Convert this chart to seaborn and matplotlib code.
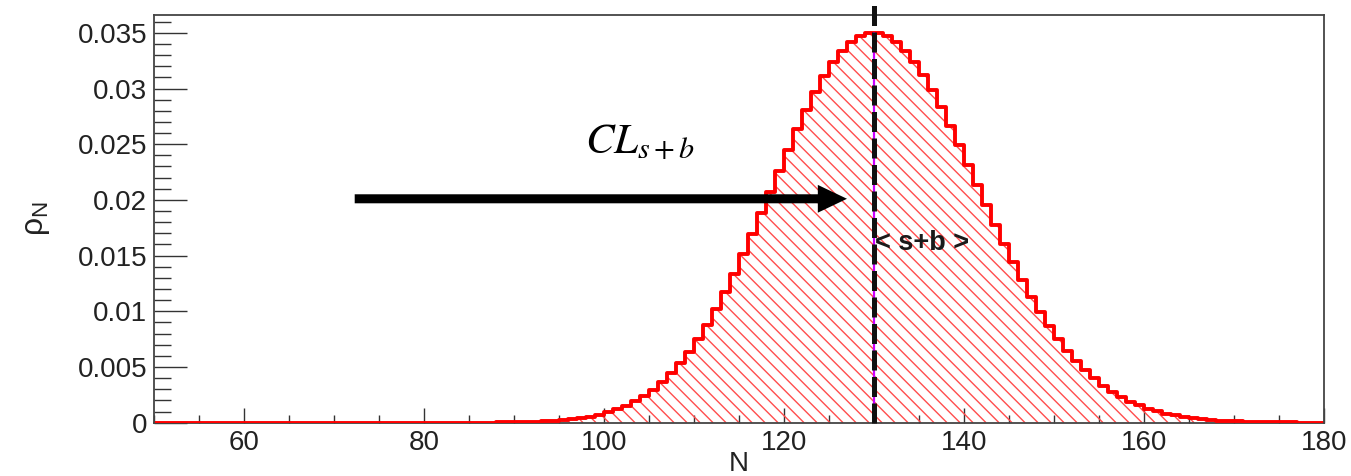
import numpy as np
import pandas as pd
import matplotlib
matplotlib.use("Agg")
import matplotlib.pyplot as plt
from matplotlib.ticker import MultipleLocator, FuncFormatter
from matplotlib.collections import LineCollection
from matplotlib.transforms import IdentityTransform
import seaborn as sns

# Counts N (left bin edges, unit-width bins from 50 to 180)
n_values = list(range(50, 180))
last_edge = 180

# Probability of observing N events
prob = [
    # 50 - 84
    0.0, 0.0, 0.0, 0.0, 0.0, 0.0, 0.0, 0.0, 0.0, 0.0,
    0.0, 0.0, 0.0, 0.0, 0.0, 0.0, 0.0, 0.0, 0.0, 0.0,
    0.0, 0.0, 0.0, 0.0, 0.0, 0.0, 0.0, 0.0, 0.0, 0.0,
    0.0, 0.0, 0.0, 0.0, 0.0,
    # 85 - 94
    0.000006, 0.000009, 0.000014, 0.000020, 0.000029,
    0.000042, 0.000060, 0.000085, 0.000119, 0.000164,
    # 95 - 104
    0.000225, 0.000305, 0.000408, 0.000542, 0.000711,
    0.000925, 0.001190, 0.001517, 0.001915, 0.002394,
    # 105 - 114
    0.002964, 0.003635, 0.004416, 0.005316, 0.006340,
    0.007492, 0.008775, 0.010185, 0.011717, 0.013361,
    # 115 - 124
    0.015104, 0.016927, 0.018808, 0.020721, 0.022636,
    0.024522, 0.026346, 0.028074, 0.029672, 0.031108,
    # 125 - 134
    0.032352, 0.033379, 0.034167, 0.034701, 0.034970,
    0.034970, 0.034703, 0.034177, 0.033406, 0.032409,
    # 135 - 144
    0.031209, 0.029832, 0.028308, 0.026667, 0.024940,
    0.023159, 0.021352, 0.019548, 0.017771, 0.016043,
    # 145 - 154
    0.014383, 0.012807, 0.011326, 0.009949, 0.008680,
    0.007523, 0.006477, 0.005540, 0.004707, 0.003973,
    # 155 - 164
    0.003332, 0.002777, 0.002299, 0.001892, 0.001547,
    0.001257, 0.001015, 0.000814, 0.000649, 0.000515,
    # 165 - 174
    0.000406, 0.000318, 0.000247, 0.000191, 0.000147,
    0.000113, 0.000086, 0.000065, 0.000049, 0.000036,
    # 175 - 179
    0.000027, 0.000020, 0.000015, 0.000011, 0.000008,
]

mean_sb = 130          # expected signal + background
x_ticks_major = 20
x_ticks_minor = 5
y_ticks_major = 0.005
y_ticks_minor = 0.001
x_range = (50, 180)
y_range = (0, 0.0366)

# Arrow and annotation anchors
arrow_start = (72.3, 0.0201)
arrow_end = (127.0, 0.0201)
cl_pos = (97.9, 0.0242)
mean_label_pos = (130.1, 0.0161)

df = pd.DataFrame({"N": n_values, "p": prob})
edges = n_values + [last_edge]

sns.set_style("white")
plt.rcParams["font.family"] = ["Liberation Sans", "DejaVu Sans"]

fig = plt.figure(figsize=(13.51, 4.76), dpi=100)
ax = fig.add_axes([0.1140, 0.1120, 0.8660, 0.8565])

ax.set_xlim(*x_range)
ax.set_ylim(*y_range)

# Area under the distribution (used as the clip region for the hatching)
sns.histplot(data=df, x="N", weights="p", bins=edges, element="step",
             fill=True, ax=ax, color="red", linewidth=0)
fill_art = ax.collections[-1]
fill_art.set_facecolor("none")
fill_art.set_edgecolor("none")
fill_art.set_linewidth(0)

# Diagonal "\\" hatching, ~13 px apart, clipped to the area under the steps
x0, y0, x1, y1 = ax.bbox.extents
height = y1 - y0
spacing = 13.0
starts = np.arange(x0 - height, x1 + spacing, spacing)
segments = [[(s, y1), (s + height, y0)] for s in starts]
hatch = LineCollection(segments, colors="#ff4d4d", linewidths=1.0,
                       transform=IdentityTransform(), zorder=1.5)
ax.add_collection(hatch, autolim=False)
hatch.set_clip_path(fill_art.get_paths()[0], ax.transData)

# Step outline
sns.histplot(data=df, x="N", weights="p", bins=edges, element="step",
             fill=False, ax=ax, color="#ff0000", linewidth=2.8)

# Mean marker: thin magenta line under a thick dashed black one
peak = max(prob)
ax.plot([mean_sb, mean_sb], [0, peak], color="#cc00ff", lw=1.6, zorder=3)
ax.axvline(mean_sb, ymin=0, ymax=1.0368, color="#111111", lw=3.6,
           dashes=(4.0, 1.3), clip_on=False, zorder=4)

ax.text(mean_label_pos[0], mean_label_pos[1], "< s+b >", fontsize=19.5,
        fontweight="bold", color="#1a1a1a", ha="left", va="center", zorder=5)

# CL_{s+b} arrow
ax.annotate("", xy=arrow_end, xytext=arrow_start,
            arrowprops=dict(arrowstyle="simple,head_length=21,head_width=20,tail_width=6.5",
                            mutation_scale=1, color="black", lw=0,
                            shrinkA=0, shrinkB=0), zorder=5)
ax.text(cl_pos[0], cl_pos[1], r"$CL_{s+b}$", fontsize=31, math_fontfamily="stix",
        ha="left", va="baseline", color="black")

# Axes
ax.set_xlim(*x_range)
ax.set_ylim(*y_range)
ax.xaxis.set_major_locator(MultipleLocator(x_ticks_major))
ax.xaxis.set_minor_locator(MultipleLocator(x_ticks_minor))
ax.yaxis.set_major_locator(MultipleLocator(y_ticks_major))
ax.yaxis.set_minor_locator(MultipleLocator(y_ticks_minor))
ax.yaxis.set_major_formatter(FuncFormatter(lambda v, pos: "%g" % round(v, 6)))
ax.xaxis.set_major_formatter(FuncFormatter(lambda v, pos: "%g" % v))

ax.tick_params(axis="both", which="both", direction="in", color="#333333",
               width=1.0, labelsize=20, labelcolor="#222222", pad=5,
               bottom=True, left=True, top=False, right=False)
ax.tick_params(axis="y", which="major", length=23.5)
ax.tick_params(axis="y", which="minor", length=12)
ax.tick_params(axis="x", which="major", length=11)
ax.tick_params(axis="x", which="minor", length=6)

for side in ["left", "bottom", "right", "top"]:
    ax.spines[side].set_visible(True)
    ax.spines[side].set_color("#444444")
    ax.spines[side].set_linewidth(1.3)
# let the red baseline of the histogram sit on top of the x axis line
ax.spines["bottom"].set_zorder(1.9)

ax.set_xlabel("N", fontsize=20, color="#222222")
ax.set_ylabel(r"$\mathregular{\rho_N}$", fontsize=23, color="#222222")
ax.xaxis.set_label_coords(0.5, -0.070)
ax.yaxis.set_label_coords(-0.087, 0.5)

fig.savefig("out.png", dpi=100)
